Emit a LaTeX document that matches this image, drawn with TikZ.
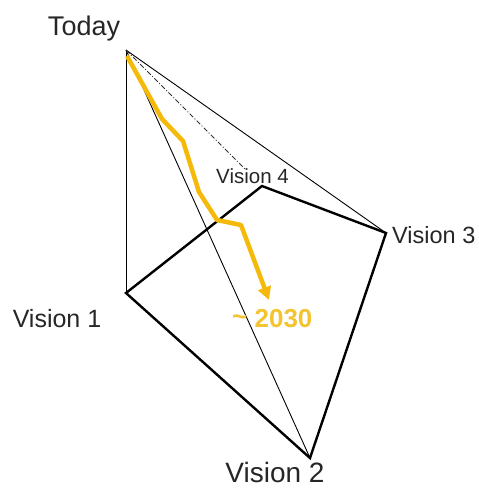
\documentclass[tikz,border=0pt]{standalone}
\usepackage{fontspec}
\setmainfont{Liberation Sans}
\usetikzlibrary{arrows.meta}
\definecolor{gold}{HTML}{F5B90A}
\definecolor{goldtext}{HTML}{F4C430}
\tikzset{
  thinline/.style={draw=black, line width=0.9pt},
  thickline/.style={draw=black, line width=2.4pt, line join=miter},
  lbl/.style={inner sep=0pt, text=black!85},
  route/.style={draw=gold, line width=4.5pt, line join=round, -{Triangle[length=13pt,width=13pt]}},
}
\begin{document}
\begin{tikzpicture}[x=1pt,y=-1pt]
\useasboundingbox (0,0) rectangle (479,488);
\coordinate (T) at (126,50);
\coordinate (V1) at (126,293);
\coordinate (V2) at (310,458);
\coordinate (V3) at (386,233);
\coordinate (V4) at (262,186);
\coordinate (D) at (246,170);
% thin lines from today
\draw[thinline] (T) -- (V1);
\draw[thinline] (T) -- (V2);
\draw[thinline] (T) -- (V3);
\draw[line width=0.8pt, dash pattern=on 5pt off 2pt on 1pt off 2pt, draw=black!80] (T) -- (D);
% quadrilateral
\draw[thickline] (V1) -- (V4) -- (V3) -- (V2) -- cycle;
% route
\coordinate (R0) at (127,56);
\coordinate (R1) at (162,119);
\coordinate (R2) at (183,141);
\coordinate (R3) at (199,192);
\coordinate (R4) at (217,220);
\coordinate (R5) at (241,225);
\coordinate (R6) at (269,300);
\draw[route] (R0) -- (R1) -- (R2) -- (R3) -- (R4) -- (R5) -- (R6);
% labels
\node[lbl, anchor=base, font=\fontsize{27}{27}\selectfont] (today) at (84,35) {Today};
\node[lbl, anchor=base, font=\fontsize{25}{25}\selectfont] (v1) at (57,327) {Vision 1};
\node[lbl, anchor=base, font=\fontsize{28}{28}\selectfont] (v2) at (275,482) {Vision 2};
\node[lbl, anchor=base west, font=\fontsize{23.5}{23.5}\selectfont] (v3) at (392,243) {Vision 3};
\node[lbl, anchor=base west, font=\fontsize{20.5}{20.5}\selectfont] (v4) at (216,183) {Vision 4};
\node[inner sep=0pt, anchor=base west, text=goldtext, font=\fontsize{26}{26}\selectfont\bfseries] (y2030) at (232,327) {\raisebox{2pt}{\textasciitilde} 2030};
\end{tikzpicture}
\end{document}
